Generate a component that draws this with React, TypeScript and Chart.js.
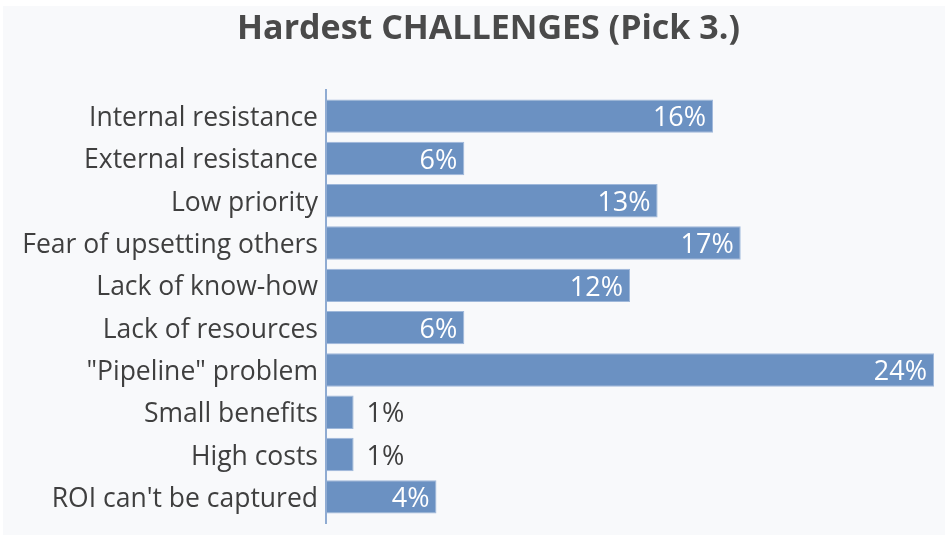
import React, { useEffect, useRef } from "react";
import { Chart, registerables } from "chart.js";

Chart.register(...registerables);

const titleText = "Hardest CHALLENGES (Pick 3.)";
const categories = [
  "Internal resistance",
  "External resistance",
  "Low priority",
  "Fear of upsetting others",
  "Lack of know-how",
  "Lack of resources",
  "\"Pipeline\" problem",
  "Small benefits",
  "High costs",
  "ROI can't be captured",
];
const percentValues = [15.56, 5.56, 13.33, 16.67, 12.22, 5.56, 24.44, 1.11, 1.11, 4.44];
const xMax = 24.44;

const FONT = "'Open Sans'";
const TEXT_COLOR = "#3f3f3f";
const BAR_COLOR = "#6b91c2";

const App: React.FC = () => {
  const ref = useRef<HTMLCanvasElement | null>(null);

  useEffect(() => {
    if (!ref.current) return;
    const titlePlugin = {
      id: "customTitle",
      afterDraw(chart: any) {
        const ctx = chart.ctx;
        ctx.save();
        ctx.font = `bold 34px ${FONT}`;
        ctx.fillStyle = "#4a4a4a";
        ctx.textAlign = "center";
        ctx.textBaseline = "alphabetic";
        ctx.fillText(titleText, 488.5, 38.5);
        ctx.restore();
      },
    };
    const axisLinePlugin = {
      id: "axisLine",
      afterDatasetsDraw(chart: any) {
        const ctx = chart.ctx;
        const { top, bottom, left } = chart.chartArea;
        ctx.save();
        ctx.strokeStyle = "#8fabd2";
        ctx.lineWidth = 2;
        ctx.beginPath();
        ctx.moveTo(left, top - 6);
        ctx.lineTo(left, bottom + 6);
        ctx.stroke();
        ctx.restore();
      },
    };
    const labelPlugin = {
      id: "valueLabels",
      afterDatasetsDraw(chart: any) {
        const ctx = chart.ctx;
        const meta = chart.getDatasetMeta(0);
        ctx.save();
        ctx.font = `27px ${FONT}`;
        ctx.textBaseline = "middle";
        meta.data.forEach((el: any, i: number) => {
          const v = chart.data.datasets[0].data[i] as number;
          const txt = `${Math.round(v)}%`;
          const w = ctx.measureText(txt).width;
          const barW = el.x - el.base;
          if (w + 12 < barW) {
            ctx.fillStyle = "#ffffff";
            ctx.textAlign = "right";
            ctx.fillText(txt, el.x - 7, el.y + 2.5);
          } else {
            ctx.fillStyle = TEXT_COLOR;
            ctx.textAlign = "left";
            ctx.fillText(txt, el.x + 13, el.y + 2.5);
          }
        });
        ctx.restore();
      },
    };
    const chart = new Chart(ref.current, {
      type: "bar",
      data: {
        labels: categories,
        datasets: [
          {
            data: percentValues,
            backgroundColor: BAR_COLOR,
            borderColor: "#9fb8da",
            borderWidth: 1,
            borderSkipped: false,
            categoryPercentage: 1,
            barPercentage: 0.79,
          },
        ],
      },
      options: {
        indexAxis: "y",
        animation: false,
        responsive: false,
        maintainAspectRatio: false,
        layout: { padding: { top: 95, bottom: 17, left: 0, right: 11 } },
        plugins: {
          legend: { display: false },
          title: { display: false },
          tooltip: { enabled: false },
        },
        scales: {
          x: { display: false, min: 0, max: xMax },
          y: {
            grid: { display: false },
            border: { display: false },
            afterFit(scale: any) {
              scale.width = 326;
            },
            ticks: {
              color: TEXT_COLOR,
              padding: 0,
              labelOffset: 2.5,
              font: { family: "Open Sans", size: 26.5 },
            },
          },
        },
      },
      plugins: [titlePlugin, axisLinePlugin, labelPlugin],
    });
    return () => chart.destroy();
  }, []);

  return (
    <div style={{ position: "fixed", left: 0, top: 0, width: 945, height: 535, background: "#ffffff" }}>
      <div style={{ position: "absolute", left: 3, top: 6, width: 942, height: 529, background: "#f8f9fb" }} />
      <canvas ref={ref} width={945} height={535} style={{ position: "absolute", left: 0, top: 0, width: 945, height: 535 }} />
    </div>
  );
};

export default App;
